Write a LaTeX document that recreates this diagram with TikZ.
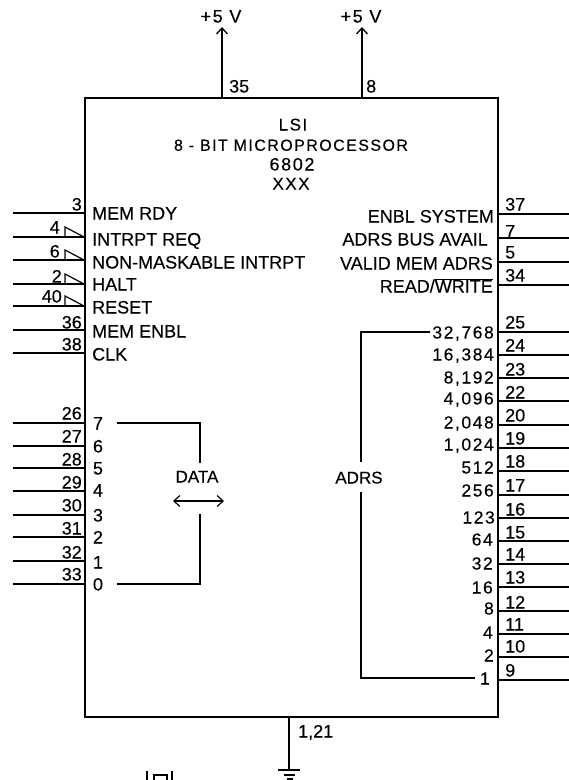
\documentclass[tikz,border=0pt]{standalone}
\usepackage{fontspec}
\setmainfont[FakeBold=0.25]{Liberation Sans}
\newfontfamily\widefont[LetterSpace=9,FakeBold=0.25]{Liberation Sans}
\usetikzlibrary{arrows.meta,positioning}

\begin{document}
\begin{tikzpicture}[x=1pt, y=-1pt,
  lead/.style={line width=1.2pt},
  wedge/.style={line width=1.2pt, line join=miter},
  busline/.style={line width=1.1pt},
  rail/.style={line width=1.3pt, -{Straight Barb[length=6pt, width=11pt]}},
  sig/.style={font=\fontsize{18}{19}\selectfont, inner sep=0pt, text height=13pt, text depth=0pt},
  sigl/.style={sig, anchor=west},
  sigr/.style={sig, anchor=east},
  ttl/.style={sig, font=\fontsize{16}{17}\widefont, text height=11.5pt},
  wgt/.style={sig, anchor=east, font=\fontsize{17.5}{18}\widefont},
  supply/.style={sig, font=\fontsize{18}{19}\widefont},
  pinno/.style={sig},
]
\useasboundingbox (0,0) rectangle (569,780);
\node[draw, line width=2pt, minimum width=413pt, minimum height=619pt, inner sep=0pt] (chip) at (291.5,407.5) {};

% title
\node[supply, font=\fontsize{17}{18}\widefont] (t1) at (293,124) {LSI};
\node[ttl] (t2) at (291,145) {8 - BIT MICROPROCESSOR};
\node[supply] (t3) at (292,164) {6802};
\node[supply, font=\fontsize{17}{18}\widefont] (t4) at (291,183) {XXX};

% supply
\node[supply] (v1) at (221,16) {+5 V};
\node[supply] (v2) at (361,16) {+5 V};
\coordinate (vt1) at (222,27);
\coordinate (vt2) at (362,27);
\draw[rail] (vt1 |- chip.north) -- (vt1);
\draw[rail] (vt2 |- chip.north) -- (vt2);
\node[pinno, anchor=west] (n35) at (229,86) {35};
\node[pinno, anchor=west] (n8) at (366,86) {8};

% ground
\coordinate (gnd) at (289,770);
\draw[lead] (gnd |- chip.south) -- (gnd);
\node[pinno, anchor=west] (n1) at (298,731) {1,21};
\draw[lead] (278,770)--(300,770);
\draw[lead] (284,775)--(295,775);
\draw[lead] (287,779)--(293,779);

% crystal stub
\draw[lead] (147,771)--(147,780);
\draw[lead] (172,771)--(172,780);
\draw[lead] (154,780)--(154,775)--(167,775)--(167,780);

% left side, control
\node[sigl] (s3) at (92,213) {MEM RDY};
\node[sigl] (s4) at (92,239) {INTRPT REQ};
\node[sigl] (s6) at (92,262) {NON-MASKABLE INTRPT};
\node[sigl] (s2) at (92,284) {HALT};
\node[sigl] (s40) at (92,307) {RESET};
\node[sigl] (s36) at (92,331) {MEM ENBL};
\node[sigl] (s38) at (92,354) {CLK};

\coordinate (a3) at (13,213);
\coordinate (a4) at (13,237);
\coordinate (a6) at (13,260);
\coordinate (a2) at (13,284);
\coordinate (a40) at (13,306);
\coordinate (a36) at (13,330);
\coordinate (a38) at (13,353);
\draw[lead] (a3) -- (a3 -| chip.west);
\draw[lead] (a4) -- (a4 -| chip.west);
\draw[lead] (a6) -- (a6 -| chip.west);
\draw[lead] (a2) -- (a2 -| chip.west);
\draw[lead] (a40) -- (a40 -| chip.west);
\draw[lead] (a36) -- (a36 -| chip.west);
\draw[lead] (a38) -- (a38 -| chip.west);

\draw[wedge] (65,237)--(65,227)--(84,237);
\draw[wedge] (65,260)--(65,250)--(84,260);
\draw[wedge] (65,284)--(65,274)--(84,284);
\draw[wedge] (65,306)--(65,296)--(84,306);

\node[pinno, anchor=east] (n3) at (82,204) {3};
\node[pinno, anchor=east] (n4) at (60,227) {4};
\node[pinno, anchor=east] (n6) at (60,251) {6};
\node[pinno, anchor=east] (n2) at (62,276) {2};
\node[pinno, anchor=east] (n40) at (62,296) {40};
\node[pinno, anchor=east] (n36) at (82,322) {36};
\node[pinno, anchor=east] (n38) at (82,344) {38};

% left side, data
\coordinate (d7) at (13,423);
\coordinate (d6) at (13,446);
\coordinate (d5) at (13,468);
\coordinate (d4) at (13,491);
\coordinate (d3) at (13,515);
\coordinate (d2) at (13,537);
\coordinate (d1) at (13,561);
\coordinate (d0) at (13,584);
\draw[lead] (d7) -- (d7 -| chip.west);
\draw[lead] (d6) -- (d6 -| chip.west);
\draw[lead] (d5) -- (d5 -| chip.west);
\draw[lead] (d4) -- (d4 -| chip.west);
\draw[lead] (d3) -- (d3 -| chip.west);
\draw[lead] (d2) -- (d2 -| chip.west);
\draw[lead] (d1) -- (d1 -| chip.west);
\draw[lead] (d0) -- (d0 -| chip.west);

\node[pinno, anchor=east] (n26) at (82,413) {26};
\node[pinno, anchor=east] (n27) at (82,436) {27};
\node[pinno, anchor=east] (n28) at (82,459) {28};
\node[pinno, anchor=east] (n29) at (82,482) {29};
\node[pinno, anchor=east] (n30) at (82,505) {30};
\node[pinno, anchor=east] (n31) at (82,528) {31};
\node[pinno, anchor=east] (n32) at (82,552) {32};
\node[pinno, anchor=east] (n33) at (82,574) {33};

\node[pinno] (b7) at (98,423) {7};
\node[pinno] (b6) at (98,446) {6};
\node[pinno] (b5) at (98,468) {5};
\node[pinno] (b4) at (98,490) {4};
\node[pinno] (b3) at (98,515) {3};
\node[pinno] (b2) at (98,537) {2};
\node[pinno] (b1) at (98,562) {1};
\node[pinno] (b0) at (98,584) {0};

\node[sig, font=\fontsize{17}{18}\selectfont] (data) at (197,476) {DATA};
\coordinate (dbl) at (173,501);
\coordinate (dbr) at (224,501);
\draw[lead, {Straight Barb[length=6pt, width=11pt]}-{Straight Barb[length=6pt, width=11pt]}] (dbl) -- (dbr);
\draw[busline] ([xshift=14pt]b7.east) -| ([xshift=3pt,yshift=6.5pt]data.north);
\draw[busline] ([xshift=14pt]b0.east) -| (200,514);

% right side, status
\node[sigr] (s37) at (494,216) {ENBL SYSTEM};
\node[sigr] (s7) at (488,239) {ADRS BUS AVAIL};
\node[sigr] (s5) at (493,263) {VALID MEM ADRS};
\node[sigr] (s34) at (493,286) {READ/$\overline{\hbox{WRITE}}$};

\coordinate (r37) at (569,214);
\coordinate (r7) at (569,238);
\coordinate (r5) at (569,262);
\coordinate (r34) at (569,285);
\draw[lead] (r37) -- (r37 -| chip.east);
\draw[lead] (r7) -- (r7 -| chip.east);
\draw[lead] (r5) -- (r5 -| chip.east);
\draw[lead] (r34) -- (r34 -| chip.east);

\node[pinno, anchor=west] (n37) at (505,204) {37};
\node[pinno, anchor=west] (n7) at (505,231) {7};
\node[pinno, anchor=west] (n5) at (505,252) {5};
\node[pinno, anchor=west] (n34) at (505,275) {34};

% right side, address
\coordinate (r25) at (569,332);
\coordinate (r24) at (569,355);
\coordinate (r23) at (569,378);
\coordinate (r22) at (569,401);
\coordinate (r20) at (569,425);
\coordinate (r19) at (569,448);
\coordinate (r18) at (569,471);
\coordinate (r17) at (569,495);
\coordinate (r16) at (569,518);
\coordinate (r15) at (569,541);
\coordinate (r14) at (569,564);
\coordinate (r13) at (569,587);
\coordinate (r12) at (569,611);
\coordinate (r11) at (569,634);
\coordinate (r10) at (569,657);
\coordinate (r9) at (569,680);
\draw[lead] (r25) -- (r25 -| chip.east);
\draw[lead] (r24) -- (r24 -| chip.east);
\draw[lead] (r23) -- (r23 -| chip.east);
\draw[lead] (r22) -- (r22 -| chip.east);
\draw[lead] (r20) -- (r20 -| chip.east);
\draw[lead] (r19) -- (r19 -| chip.east);
\draw[lead] (r18) -- (r18 -| chip.east);
\draw[lead] (r17) -- (r17 -| chip.east);
\draw[lead] (r16) -- (r16 -| chip.east);
\draw[lead] (r15) -- (r15 -| chip.east);
\draw[lead] (r14) -- (r14 -| chip.east);
\draw[lead] (r13) -- (r13 -| chip.east);
\draw[lead] (r12) -- (r12 -| chip.east);
\draw[lead] (r11) -- (r11 -| chip.east);
\draw[lead] (r10) -- (r10 -| chip.east);
\draw[lead] (r9) -- (r9 -| chip.east);

\node[pinno, anchor=west] (n25) at (505,322) {25};
\node[pinno, anchor=west] (n24) at (505,345) {24};
\node[pinno, anchor=west] (n23) at (505,369) {23};
\node[pinno, anchor=west] (n22) at (505,392) {22};
\node[pinno, anchor=west] (n20) at (505,415) {20};
\node[pinno, anchor=west] (n19) at (505,438) {19};
\node[pinno, anchor=west] (n18) at (505,461) {18};
\node[pinno, anchor=west] (n17) at (505,485) {17};
\node[pinno, anchor=west] (n16) at (505,509) {16};
\node[pinno, anchor=west] (n15) at (505,532) {15};
\node[pinno, anchor=west] (n14) at (505,554) {14};
\node[pinno, anchor=west] (n13) at (505,577) {13};
\node[pinno, anchor=west] (n12) at (505,602) {12};
\node[pinno, anchor=west] (n11) at (505,624) {11};
\node[pinno, anchor=west] (n10) at (505,646) {10};
\node[pinno, anchor=west] (n9) at (505,670) {9};

\node[wgt] (w15) at (494,332) {32,768};
\node[wgt] (w14) at (494,354) {16,384};
\node[wgt] (w13) at (494,377) {8,192};
\node[wgt] (w12) at (494,398) {4,096};
\node[wgt] (w11) at (494,422) {2,048};
\node[wgt] (w10) at (494,444) {1,024};
\node[wgt] (w9) at (494,467) {512};
\node[wgt] (w8) at (494,490) {256};
\node[wgt] (w7) at (495,517) {123};
\node[wgt] (w6) at (493,539) {64};
\node[wgt] (w5) at (493,563) {32};
\node[wgt] (w4) at (493,587) {16};
\node[wgt] (w3) at (494,608) {8};
\node[wgt] (w2) at (493,632) {4};
\node[wgt] (w1) at (494,655) {2};
\node[wgt] (w0) at (490,678) {1};

\node[sig, font=\fontsize{17}{18}\selectfont] (adrs) at (359,477) {ADRS};
\draw[busline] ([xshift=-2pt]w15.west) -| ([xshift=2pt,yshift=8.5pt]adrs.north);
\draw[busline] ([xshift=-5pt]w0.west) -| ([xshift=2pt,yshift=-8.5pt]adrs.south);
\end{tikzpicture}
\end{document}
